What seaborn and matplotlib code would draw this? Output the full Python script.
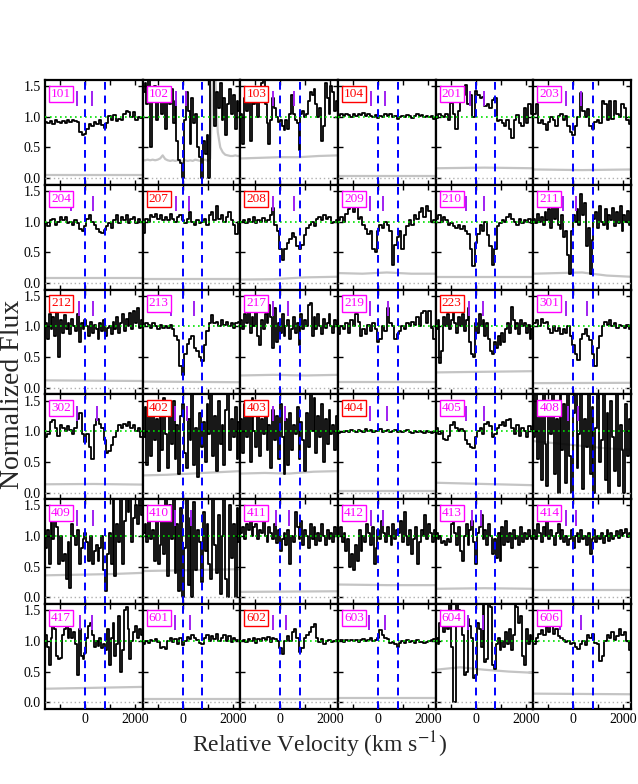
import numpy as np
import matplotlib
matplotlib.use("Agg")
import matplotlib.pyplot as plt
import seaborn as sns

# ---------------- data ----------------
VMIN, VMAX = -1600.0, 2300.0   # velocity range of each spectrum (km/s)
LINE2 = 780.0                  # second blue reference velocity

panel_ids = ["101", "102", "103", "104", "201", "203",
             "204", "207", "208", "209", "210", "211",
             "212", "213", "217", "219", "223", "301",
             "302", "402", "403", "404", "405", "408",
             "409", "410", "411", "412", "413", "414",
             "417", "601", "602", "603", "604", "606"]
red_ids = ["103", "104", "207", "208", "212", "223", "402", "403", "404", "602"]

flux_101 = [0.92,0.90,0.93,0.88,0.94,0.91,0.89,0.93,0.90,0.94,0.92,0.95,0.93,0.92,0.75,0.70,0.72,0.80,0.88,0.85,
            0.92,0.88,0.95,0.86,0.82,0.90,1.02,0.95,1.03,0.93,0.97,0.94,1.05,1.10,1.08,1.00,1.07,0.95,1.00,0.98]
flux_102 = [1.40,1.55,1.20,1.60,0.50,1.35,1.50,0.95,1.45,1.25,1.05,1.40,0.80,1.30,1.20,1.45,0.90,
            1.25,0.60,0.30,0.25,0.00,0.95,1.40,1.10,0.55,1.30,0.90,1.05,0.50,0.35,0.00,0.60,0.40,0.70,
            0.00,1.60,1.60,0.85,1.40,1.15,1.55,0.95,1.30,0.70,1.20,1.45,1.05,1.35,0.80,1.25,1.10]
flux_103 = [1.05,0.55,1.30,1.10,1.35,0.60,1.45,1.20,1.35,1.00,1.25,1.55,1.60,1.20,0.90,0.55,0.95,1.30,1.15,1.00,
            0.92,0.95,0.85,0.78,0.95,0.80,1.05,1.35,1.05,0.95,0.90,0.45,1.05,1.10,1.00,1.05,1.25,1.40,1.35,1.45,
            1.20,1.00,1.15,0.60,0.85,1.55,1.30,1.05,1.50,1.40,1.10,1.25]
flux_104 = [1.02,1.04,1.01,1.05,1.03,1.00,1.04,1.02,1.05,1.03,1.06,1.01,1.04,1.02,1.00,1.03,0.98,1.02,1.00,1.04,
            1.02,1.05,0.99,1.01,0.97,1.00,1.02,0.99,1.03,1.01,0.98,1.02,1.04,1.01,1.03,1.00,1.02,0.99,1.01,0.97]
flux_201 = [0.98,1.05,1.02,1.00,1.05,0.95,1.22,1.05,0.80,1.10,1.25,1.35,1.52,1.20,1.35,1.00,1.42,1.35,1.30,1.32,
            1.18,1.20,1.15,1.28,1.30,0.93,0.95,0.90,0.85,0.95,0.80,0.65,0.95,1.03,0.90,0.85,1.15,0.90,1.20,1.05]
flux_203 = [1.05,1.20,0.90,0.95,0.88,0.78,0.92,1.00,0.95,0.85,1.02,1.05,0.95,1.02,0.85,0.75,0.70,0.85,1.00,1.38,
            1.10,1.00,1.12,0.85,0.80,0.92,0.95,0.90,1.25,1.20,0.95,1.25,0.97,1.25,1.05,1.00,1.20,1.15,0.95,0.88]
flux_204 = [0.97,0.93,1.02,1.05,0.95,1.00,1.08,1.03,1.07,0.98,1.00,0.95,1.03,0.97,0.88,0.85,0.92,1.05,1.10,1.00,
            0.95,0.88,0.83,0.82,0.87,0.93,0.98,0.90,1.02,1.10,0.98,1.08,1.03,1.10,0.97,1.05,1.08,0.98,1.04,1.00]
flux_207 = [0.82,1.05,1.00,1.10,1.08,1.12,1.05,1.10,1.02,1.07,1.03,1.12,1.05,1.00,1.08,1.10,1.02,0.98,1.05,1.15,
            1.00,0.95,1.02,0.97,1.00,1.05,0.95,1.10,1.15,1.03,1.25,1.05,1.10,1.00,1.08,1.15,1.02,0.95,0.80,1.00]
flux_208 = [1.00,1.03,0.97,1.05,1.00,1.07,0.98,1.03,1.00,1.06,1.00,1.03,1.10,1.22,0.95,0.85,0.55,0.38,0.55,0.65,
            0.72,0.82,0.75,0.60,0.55,0.62,0.78,0.90,0.95,1.00,0.93,1.05,1.08,1.02,1.10,1.05,1.08,0.97,1.00,1.02]
flux_209 = [1.02,1.08,1.00,1.12,1.20,1.28,1.15,1.27,1.05,1.08,0.95,0.88,0.80,0.85,0.55,0.50,0.85,0.95,0.90,1.00,
            0.95,0.85,0.30,0.62,0.75,0.85,0.55,0.78,0.92,1.03,0.95,1.10,1.05,1.15,1.22,1.08,1.25,1.18,1.00,1.02]
flux_210 = [1.05,1.10,1.00,1.08,1.02,0.95,0.98,0.92,0.90,0.95,0.88,0.92,0.85,0.80,0.55,0.28,0.65,0.80,0.95,0.85,
            1.00,0.78,0.60,0.30,0.55,0.92,0.98,1.03,1.00,1.08,1.12,1.05,1.00,0.95,1.05,0.98,1.03,1.00,1.05,0.98]
flux_211 = [1.05,0.98,1.12,1.00,1.08,0.95,1.15,1.02,1.20,0.90,1.28,1.05,1.25,0.95,0.88,1.10,0.75,0.85,
            0.45,0.14,0.85,1.10,1.00,1.20,0.95,1.45,1.10,1.30,0.60,0.90,0.15,0.70,1.05,
            1.15,0.90,1.25,1.00,0.95,1.20,0.88,1.10,1.02,1.22,0.92,1.15,0.97,1.25,0.85,1.10,1.00,1.18,0.95]
flux_212 = [1.05,0.80,1.20,0.95,1.15,0.85,1.25,0.50,1.10,0.90,1.18,0.95,1.05,0.88,1.12,1.00,0.92,1.20,0.75,1.05,
            0.95,1.10,1.00,0.85,1.08,0.90,1.02,0.95,0.80,1.05,0.93,1.10,0.85,0.97,1.00,0.88,1.08,0.95,1.15,0.90,
            1.05,1.20,0.92,1.12,1.00,1.22,0.95,1.25,1.05,1.30,0.98,1.10]
flux_213 = [1.00,1.05,1.02,0.98,1.05,1.00,0.96,1.03,0.98,1.00,0.97,1.02,0.95,0.85,0.78,0.35,0.20,0.55,0.72,0.80,
            0.85,0.65,0.60,0.50,0.43,0.70,0.92,1.05,1.18,1.05,1.08,1.00,1.10,1.03,1.07,1.00,1.05,0.98,1.05,1.08]
flux_217 = [1.10,0.95,1.20,1.05,1.30,0.90,1.15,1.00,1.25,0.85,0.70,1.10,0.95,1.20,1.05,1.35,1.15,0.65,1.30,0.75,
            1.05,0.90,1.20,0.85,1.00,1.10,0.80,0.95,1.15,0.90,1.05,0.70,1.20,0.95,1.10,1.00,1.35,1.38,0.85,1.15,
            0.95,1.20,1.00,0.88,1.12,0.97,1.05,1.20,1.00,0.90,1.10,1.02]
flux_219 = [0.88,1.00,0.95,1.05,0.90,1.10,1.00,1.20,1.08,0.85,0.95,0.88,1.02,0.92,1.05,0.95,0.75,0.80,1.00,0.92,
            1.30,1.05,1.00,0.80,0.88,0.92,1.00,0.95,1.05,1.00,1.08,1.02,1.15,1.00,1.22,1.25,1.05,1.25,0.98,0.80]
flux_223 = [0.95,1.10,0.40,0.60,1.15,1.00,1.20,0.95,1.10,1.25,1.05,0.90,1.15,1.00,1.20,0.92,1.10,1.30,0.75,0.55,
            0.50,1.05,0.90,1.20,1.00,1.10,0.85,1.05,0.80,0.60,0.55,0.75,0.65,0.85,0.70,0.90,0.75,0.95,1.05,0.90,
            1.32,1.10,0.95,1.05,0.88,1.10,1.00,1.05,0.90,1.02,0.80,0.95]
flux_301 = [1.05,1.10,1.00,1.12,1.05,1.08,0.95,0.90,1.00,0.92,0.97,0.88,0.95,0.90,1.00,0.85,0.70,0.55,0.45,0.80,
            0.88,0.95,0.85,0.78,0.55,0.35,0.65,0.85,1.00,1.08,1.03,1.10,1.00,1.05,0.97,1.02,1.00,0.98,1.02,0.95]
flux_302 = [0.90,0.95,1.15,1.18,1.05,0.92,1.10,1.05,1.00,1.08,1.02,0.95,1.05,1.20,1.30,0.95,0.82,0.95,0.75,0.55,
            1.10,1.20,1.12,1.05,0.85,0.65,0.68,0.78,0.90,1.00,1.10,1.05,1.12,1.08,1.15,1.05,1.10,1.00,1.05,0.90]
flux_402 = [0.90,1.40,0.45,1.25,0.60,1.45,0.85,1.20,0.35,1.30,0.70,1.55,0.95,0.40,1.35,0.80,1.50,0.55,1.10,0.30,
            1.25,1.45,0.65,0.40,1.20,0.85,1.60,0.45,1.05,0.25,1.30,0.75,1.15,0.50,1.45,0.95,1.60,0.60,1.25,0.35,
            1.50,0.80,1.10,0.45,1.35,1.60,0.70,1.20,0.90,1.40,0.55,1.15]
flux_403 = [1.20,0.65,1.45,0.90,1.30,0.50,1.55,1.00,0.75,1.35,0.60,1.20,0.95,1.50,0.70,1.10,0.40,1.35,0.85,1.25,
            0.55,1.45,0.90,0.30,1.20,0.45,1.30,0.70,1.10,0.95,1.40,0.55,1.15,0.85,0.35,1.30,0.75,1.60,1.00,1.55,
            0.65,1.25,0.90,1.45,0.50,1.20,0.80,1.35,0.95,1.10,0.70,1.25]
flux_404 = [0.97,0.99,0.98,1.01,0.99,1.02,1.00,0.98,1.02,1.01,0.99,1.03,1.00,1.02,0.99,1.01,1.00,1.03,0.99,1.01,
            1.02,0.98,1.00,1.02,0.99,1.01,0.98,1.00,1.02,0.99,0.97,1.00,0.98,1.01,0.99,0.97,1.00,0.98,0.97,0.99]
flux_405 = [1.05,0.95,1.00,0.88,0.85,0.92,1.10,1.15,1.05,1.00,1.03,1.00,0.85,0.80,0.75,0.72,0.90,1.00,1.05,0.95,
            1.12,1.15,1.08,0.90,0.95,1.05,1.10,1.15,1.08,1.18,1.20,1.05,0.95,1.10,0.92,1.05,1.00,0.90,1.08,1.02]
flux_408 = [0.90,1.60,0.55,1.40,0.20,1.60,0.80,0.10,1.50,0.95,1.60,0.30,1.20,0.00,1.60,0.70,1.45,0.15,1.60,0.60,
            0.00,1.30,1.60,0.40,0.95,1.60,0.05,1.20,0.75,1.60,0.30,1.40,0.00,1.05,1.60,0.50,0.85,1.60,0.20,1.30,
            0.00,1.50,0.90,0.35,1.60,0.10,1.10,0.70,0.00,1.45,0.60,1.20]
flux_409 = [0.80,1.10,0.55,1.30,0.95,1.45,1.15,0.55,1.00,0.60,0.70,0.30,0.90,0.15,1.20,1.00,0.85,1.10,0.55,0.80,
            0.95,1.05,0.90,0.60,1.00,0.55,0.75,0.85,0.60,0.80,1.00,0.45,0.10,0.70,1.05,0.55,1.60,0.35,1.20,0.90,
            1.60,0.55,1.25,1.60,1.40,1.60,0.90,1.30,1.50,1.20,1.60,1.35]
flux_410 = [1.05,1.20,0.90,1.35,0.95,1.10,0.60,1.30,0.55,0.85,1.40,0.70,1.60,0.35,1.50,0.95,1.60,0.40,1.20,0.10,
            1.45,0.00,0.80,1.60,0.20,1.30,0.00,1.55,0.45,1.10,0.90,0.25,1.40,0.75,1.20,0.55,0.30,1.60,0.85,0.40,
            1.35,0.05,1.00,1.60,0.30,0.00,1.50,0.65,1.20,0.00,1.45,0.90]
flux_411 = [1.05,1.15,0.95,1.20,1.10,1.25,1.00,1.15,1.20,0.95,1.10,1.05,1.25,1.00,0.90,1.15,1.05,0.95,1.20,0.88,
            1.10,0.75,0.95,1.05,0.85,1.10,0.55,1.00,0.90,1.40,1.15,0.95,1.25,0.85,1.10,1.00,0.80,1.20,0.95,1.15,
            0.85,1.05,0.92,1.20,1.00,0.85,1.10,0.95,1.05,0.90,1.15,1.00]
flux_412 = [1.00,1.15,0.90,1.05,0.75,0.95,0.50,0.70,0.45,0.85,0.60,1.10,0.75,1.00,0.90,1.20,1.05,0.85,1.15,0.55,
            0.80,1.10,0.95,1.25,1.05,0.90,1.15,1.00,0.85,1.20,0.95,1.10,1.05,1.25,0.90,1.40,1.00,0.85,1.10,0.70,
            0.95,1.15,0.55,0.90,1.10,1.00,1.35,0.95,1.20,1.05,0.90,1.10]
flux_413 = [1.05,0.95,1.00,0.88,0.92,0.85,0.95,0.90,1.20,1.30,1.05,0.85,1.15,0.75,0.60,1.00,1.20,0.85,1.10,1.25,
            0.90,0.55,1.05,1.15,1.35,0.95,1.10,0.85,1.20,1.00,0.70,0.95,0.65,1.05,0.60,1.15,0.85,1.25,0.90,1.05,
            0.80,1.10,0.95,1.00,0.85,1.15,0.90,1.05,0.95,1.10,1.00,0.95]
flux_414 = [1.10,0.95,1.20,1.05,0.90,1.15,1.00,1.25,0.95,1.10,1.00,0.85,1.05,1.20,0.95,1.10,0.90,1.00,0.85,0.95,
            1.10,0.80,1.00,1.05,0.90,1.10,0.95,1.00,0.85,1.05,0.70,0.95,1.10,0.90,1.00,0.95,1.05,0.88,1.00,1.10,
            0.92,1.05,0.95,1.00,1.08,0.97,1.10,1.00,1.05,1.12,0.98,1.05]
flux_417 = [1.10,0.90,0.60,1.05,1.25,1.20,0.75,0.70,0.72,1.10,1.20,1.30,1.05,1.20,1.05,1.15,0.95,0.45,1.20,0.75,
            0.70,0.80,1.05,1.25,1.30,1.10,0.90,1.00,0.92,1.05,0.88,0.95,0.85,1.20,0.60,1.05,1.30,0.75,0.95,1.40,
            0.50,0.85,1.50,1.55,1.20,0.70,1.00,1.15,1.25,1.05,1.20,1.10]
flux_601 = [0.95,1.00,0.97,1.02,1.00,1.03,0.98,0.88,0.90,0.87,1.00,1.05,0.98,1.03,0.95,1.05,0.93,1.00,1.07,1.03,
            1.10,1.05,1.02,0.97,0.95,1.05,1.10,1.00,1.08,1.03,1.12,1.00,1.05,1.10,1.00,1.08,0.98,1.05,1.02,1.00]
flux_602 = [1.00,1.02,0.98,1.03,1.00,1.05,0.97,1.03,1.00,1.05,1.02,1.07,0.98,1.05,1.03,1.00,0.88,0.78,1.00,1.08,
            1.00,1.15,1.20,1.05,0.82,0.88,1.05,1.10,1.15,1.22,1.27,1.05,0.98,1.03,0.95,1.00,1.02,0.98,1.00,1.02]
flux_603 = [1.00,1.01,0.99,1.02,1.00,1.01,1.00,1.02,0.99,1.01,1.03,1.00,1.02,1.05,1.00,1.02,1.05,1.18,1.10,1.05,
            1.03,0.97,0.98,0.95,0.90,0.97,1.00,0.97,1.02,0.98,1.00,0.96,1.01,0.98,0.99,0.96,0.98,1.00,1.02,1.03]
flux_604 = [1.05,0.95,1.30,1.40,1.15,1.45,1.20,1.60,0.90,0.00,0.00,1.60,1.50,1.30,1.10,0.45,0.50,1.35,1.25,1.05,
            0.40,0.45,1.30,1.20,0.90,1.60,0.65,0.70,1.60,1.55,0.60,0.55,0.95,1.05,0.85,1.00,0.90,1.15,0.95,1.20,
            0.85,1.10,1.60,1.55,1.30,1.40,0.75,0.60,1.20,0.95,1.10,1.00]
flux_606 = [0.95,1.05,1.12,1.18,1.10,1.22,1.15,1.25,1.12,1.20,1.08,1.05,1.02,0.98,1.00,0.95,0.97,0.90,0.87,0.95,
            1.00,0.93,1.10,1.05,1.12,0.97,0.95,0.68,0.75,1.00,1.10,1.05,1.15,1.02,1.08,1.20,1.10,1.15,1.00,0.85]

# error spectra (grey), evenly spaced across the velocity range
err_101 = [0.05, 0.05]
err_102 = [0.29,0.29,0.30,0.29,0.30,0.29,0.30,0.32,0.37,0.31,0.29,0.28,0.29,0.28,0.29,0.28,0.28,0.29,0.28,0.29,
           0.28,0.30,0.29,0.28,0.29,0.30,0.28,0.31,1.65,1.65,0.75,0.50,0.42,0.38,0.37,0.36,0.36,0.37,0.36,0.36]
err_103 = [0.32, 0.33, 0.34, 0.34, 0.36, 0.37]
err_104 = [0.03, 0.03]
err_201 = [0.16, 0.17, 0.16]
err_203 = [0.14, 0.13, 0.14]
err_204 = [0.08, 0.08]
err_207 = [0.065, 0.065]
err_208 = [0.055, 0.06, 0.09, 0.10]
err_209 = [0.16, 0.15, 0.17, 0.15, 0.15]
err_210 = [0.10, 0.10]
err_211 = [0.15, 0.16, 0.17, 0.12, 0.10]
err_212 = [0.12, 0.11]
err_213 = [0.10, 0.09]
err_217 = [0.20, 0.21, 0.20, 0.21]
err_219 = [0.09, 0.09]
err_223 = [0.25, 0.26, 0.27]
err_301 = [0.075, 0.08]
err_302 = [0.135, 0.14, 0.13]
err_402 = [0.28, 0.29, 0.31, 0.33, 0.35]
err_403 = [0.31, 0.32, 0.31, 0.34, 0.35]
err_404 = [0.03, 0.03]
err_405 = [0.16, 0.14, 0.12]
err_408 = [0.84, 0.80, 0.76, 0.72, 0.70]
err_409 = [0.36, 0.37, 0.38, 0.40]
err_410 = [0.43, 0.44, 0.45, 0.46]
err_411 = [0.09, 0.10]
err_412 = [0.21, 0.20, 0.20]
err_413 = [0.14, 0.15, 0.14]
err_414 = [0.12, 0.12]
err_417 = [0.22, 0.23, 0.24, 0.25]
err_601 = [0.06, 0.06]
err_602 = [0.06, 0.06]
err_603 = [0.07, 0.07]
err_604 = [0.53, 0.57, 0.53, 0.50, 0.48]
err_606 = [0.14, 0.13]

# purple component markers (km/s)
marks_101 = [-310, 290]; marks_102 = [-250, 150]; marks_103 = [-310, 530]; marks_104 = [-290, 290]
marks_201 = [-240, 320]; marks_203 = [-310, 320]; marks_204 = [-550, 310]; marks_207 = [-250, 250]
marks_208 = [-290, 540]; marks_209 = [-310, 185]; marks_210 = [-370, 320]; marks_211 = [-400, 110]
marks_212 = [-250, 310]; marks_213 = [-450, 450]; marks_217 = [-290, 310]; marks_219 = [-310, 400]
marks_223 = [-250, 310]; marks_301 = [-290, 550]; marks_302 = [-310, 490]; marks_402 = [-320, 170]
marks_403 = [-290, 185]; marks_404 = [-310, 340]; marks_405 = [-370, 320]; marks_408 = [-215, 200]
marks_409 = [-310, 310]; marks_410 = [-320, 340]; marks_411 = [-170, 350]; marks_412 = [-280, 200]
marks_413 = [-150, 215]; marks_414 = [-290, 90]; marks_417 = [-200, 280]; marks_601 = [-290, 310]
marks_602 = [-290, 240]; marks_603 = [-350, 290]; marks_604 = [-290, 310]; marks_606 = [-550, 310]

g = globals()
fluxes = [g["flux_" + p] for p in panel_ids]
errors = [g["err_" + p] for p in panel_ids]
marks = [g["marks_" + p] for p in panel_ids]

# ---------------- style ----------------
sns.set_style("ticks")
plt.rcParams["font.family"] = ["Liberation Serif", "DejaVu Serif"]
plt.rcParams["mathtext.fontset"] = "stix"

fig, axes = plt.subplots(6, 6, figsize=(6.38, 7.84), dpi=100, sharex=True, sharey=True)
fig.subplots_adjust(left=0.0705, right=0.989, top=0.898, bottom=0.0957, wspace=0, hspace=0)

for i, ax in enumerate(axes.flat):
    pid = panel_ids[i]
    flux = fluxes[i]
    err = errors[i]
    col = "#ff0000" if pid in red_ids else "#ff00ff"

    # error spectrum
    sns.lineplot(x=np.linspace(VMIN, VMAX, len(err)), y=err, ax=ax, color="#c4c4c4",
                 lw=1.6, estimator=None, sort=False)
    # flux spectrum as histogram steps
    edges = np.linspace(VMIN, VMAX, len(flux) + 1)
    sns.lineplot(x=edges, y=list(flux) + [flux[-1]], ax=ax, color="black", lw=1.3,
                 drawstyle="steps-post", estimator=None, sort=False)

    ax.axhline(1.0, color="#00e000", ls=(0, (1, 2)), lw=1.2, zorder=4)
    ax.axhline(0.0, color="#b0b0b0", ls=(0, (1, 2)), lw=1.0, zorder=4)
    for v in (0.0, LINE2):
        ax.axvline(v, color="#0000ff", ls=(0, (4, 3)), lw=1.4, zorder=5)
    ax.vlines(marks[i], 1.17, 1.42, color="#a020f0", lw=1.4, zorder=5)

    ax.text(0.062, 0.925, pid, transform=ax.transAxes, ha="left", va="top",
            fontsize=9.5, color=col, zorder=6,
            bbox=dict(boxstyle="square,pad=0.16", fc="white", ec=col, lw=1.0))

    ax.set_xlim(VMIN, VMAX)
    ax.set_ylim(-0.11, 1.6)
    ax.set_xlabel("")
    ax.set_ylabel("")
    for s in ax.spines.values():
        s.set_linewidth(1.6)
        s.set_color("black")
    ax.tick_params(direction="in", length=3.5, width=1.0, top=True, right=True,
                   labelsize=10, pad=3, colors="black")

axes[0, 0].set_xticks([-1000, 0, 1000, 2000], labels=["", "0", "", "2000"])
axes[0, 0].set_yticks([0.0, 0.5, 1.0, 1.5], labels=["0.0", "0.5", "1.0", "1.5"])
for ax in axes.flat:
    ax.label_outer()

fig.text(0.5, 0.050, r"Relative Velocity (km s$^{-1}$)", ha="center", va="center", fontsize=17)
fig.text(0.019, 0.497, "Normalized Flux", ha="center", va="center", rotation=90, fontsize=20)

fig.savefig("out.png", dpi=100)
